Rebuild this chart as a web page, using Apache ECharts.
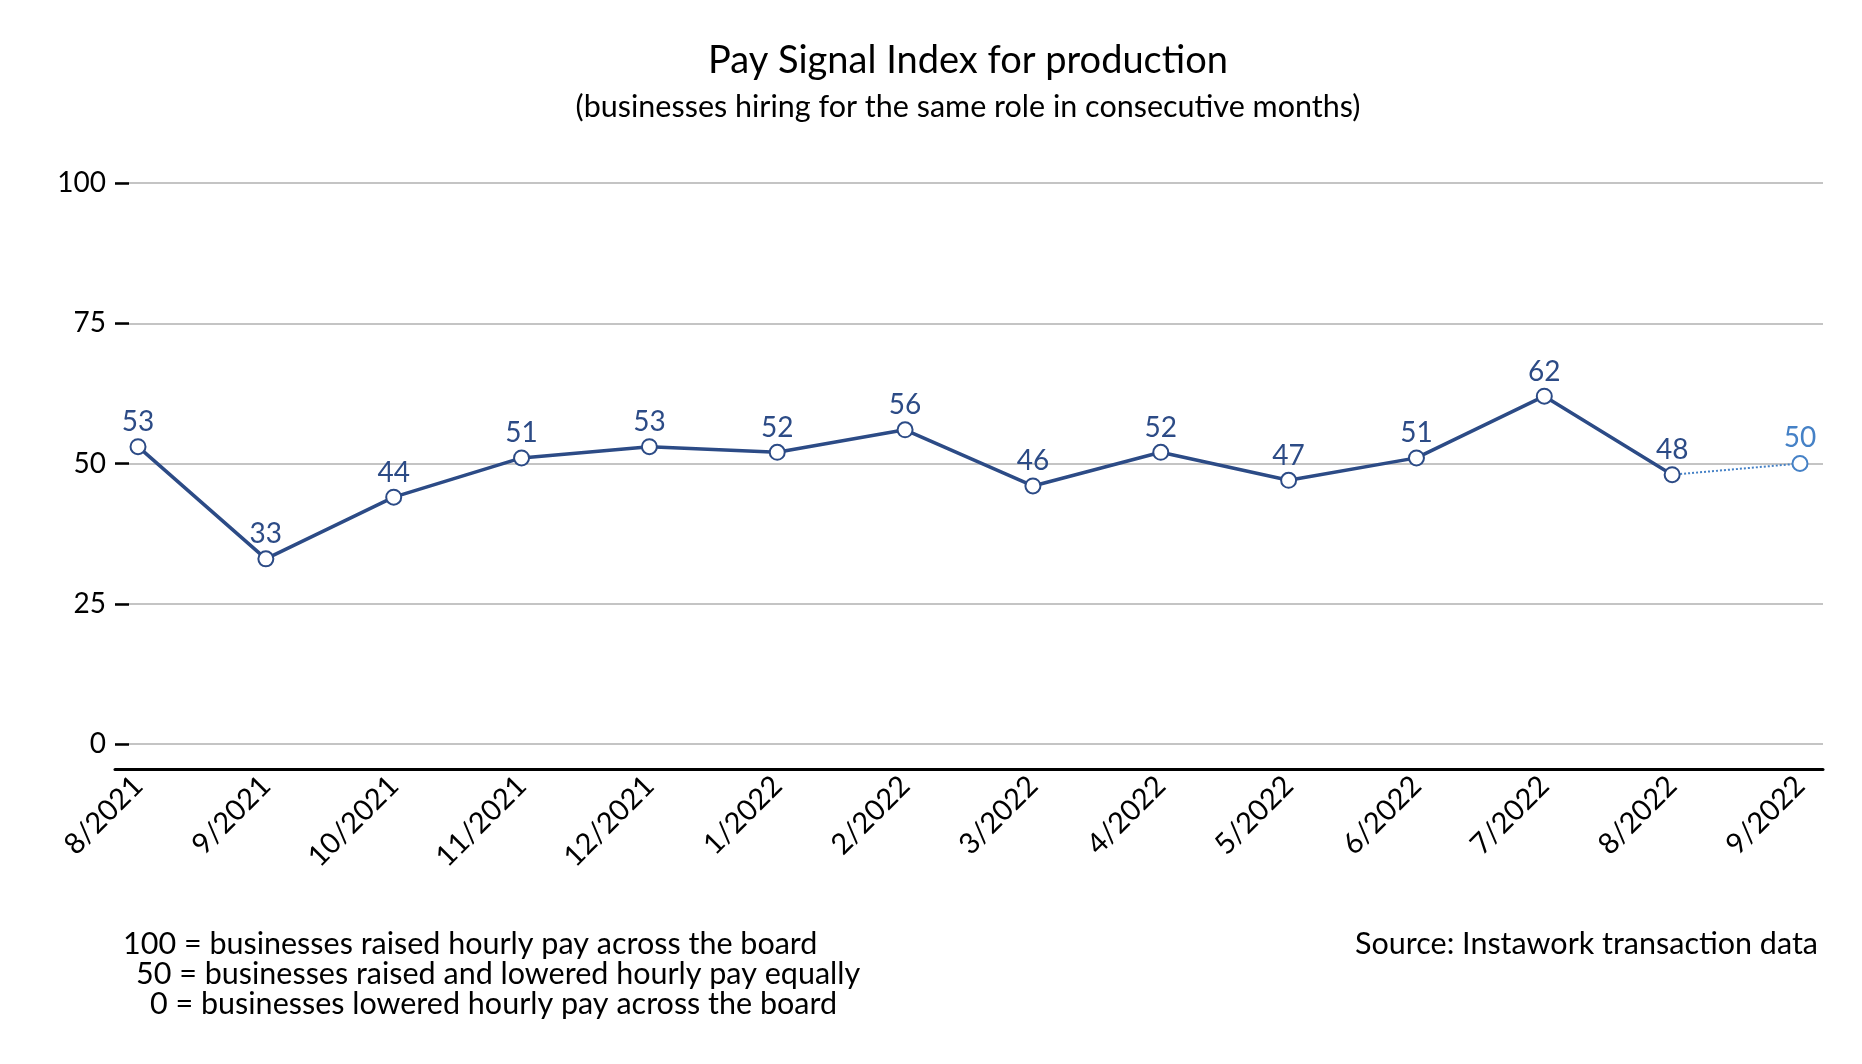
<!DOCTYPE html>
<html>
<head>
<meta charset="utf-8">
<script src="https://cdn.jsdelivr.net/npm/echarts@6/dist/echarts.min.js"></script>
<style>
html,body{margin:0;padding:0;background:#fff;}
#chart{width:1862px;height:1064px;}
</style>
</head>
<body>
<div id="chart"></div>
<script>
const categories = ['8/2021','9/2021','10/2021','11/2021','12/2021','1/2022','2/2022','3/2022','4/2022','5/2022','6/2022','7/2022','8/2022','9/2022'];
const values = [53,33,44,51,53,52,56,46,52,47,51,62,48,50];
const yTicks = [0,25,50,75,100];
const titleText = 'Pay Signal Index for production';
const subtitleText = '(businesses hiring for the same role in consecutive months)';
const noteLines = ['100 = businesses raised hourly pay across the board', '50 = businesses raised and lowered hourly pay equally', '0 = businesses lowered hourly pay across the board'];
const sourceText = 'Source: Instawork transaction data';

const FONT = 'Lato';
const DARK = '#2c4b86';
const LIGHT = '#4581c6';

const lastIdx = values.length - 1;
const mainData = values.slice(0, lastIdx).map((v, i) => [i, v]);
const tailData = [
  {value: [lastIdx - 1, values[lastIdx - 1]], symbol: 'none', label: {show: false}},
  {value: [lastIdx, values[lastIdx]]}
];

const chart = echarts.init(document.getElementById('chart'));
chart.setOption({
  backgroundColor: '#fff',
  animation: false,
  title: {
    text: titleText,
    subtext: subtitleText,
    left: 963,
    textAlign: 'center',
    top: 37,
    itemGap: 12,
    textStyle: {fontFamily: FONT, fontSize: 38, fontWeight: 'normal', color: '#000'},
    subtextStyle: {fontFamily: FONT, fontSize: 30.5, color: '#000'}
  },
  grid: {left: 115, right: 39, top: 183, bottom: 320, containLabel: false},
  xAxis: {
    type: 'value',
    min: -0.18,
    max: lastIdx + 0.18,
    offset: 25,
    splitLine: {show: false},
    axisLine: {show: true, onZero: false, lineStyle: {color: '#000', width: 3}},
    axisTick: {show: false},
    axisLabel: {
      customValues: categories.map((c, i) => i),
      formatter: v => categories[Math.round(v)],
      rotate: 45,
      margin: 12,
      fontFamily: FONT,
      fontSize: 29,
      color: '#000'
    }
  },
  yAxis: {
    type: 'value',
    min: 0,
    max: 100,
    interval: 25,
    axisLine: {show: false, onZero: false},
    axisTick: {show: true, inside: true, length: 14, lineStyle: {color: '#000', width: 2.5}},
    splitLine: {show: true, lineStyle: {color: '#c4c4c4', width: 2}},
    axisLabel: {
      margin: 9,
      fontFamily: FONT,
      fontSize: 28,
      color: '#000',
      formatter: v => (yTicks.indexOf(v) >= 0 ? String(v) : '')
    }
  },
  series: [
    {
      type: 'line',
      data: tailData,
      z: 2,
      symbol: 'emptyCircle',
      symbolSize: 15,
      lineStyle: {color: LIGHT, width: 2, type: 'dotted'},
      itemStyle: {color: LIGHT, borderColor: LIGHT, borderWidth: 3.5},
      label: {show: true, position: 'top', distance: 3, formatter: p => p.value[1], fontFamily: FONT, fontSize: 28, color: LIGHT}
    },
    {
      type: 'line',
      data: mainData,
      z: 3,
      symbol: 'emptyCircle',
      symbolSize: 15,
      lineStyle: {color: DARK, width: 3.5},
      itemStyle: {color: DARK, borderColor: DARK, borderWidth: 3.5},
      label: {show: true, position: 'top', distance: 2, formatter: p => p.value[1], fontFamily: FONT, fontSize: 28, color: DARK}
    }
  ],
  graphic: [
    {type: 'text', left: 123, top: 929, style: {text: noteLines[0], fontFamily: FONT, fontSize: 30.5, fill: '#000'}},
    {type: 'text', left: 136, top: 959, style: {text: noteLines[1], fontFamily: FONT, fontSize: 30.5, fill: '#000'}},
    {type: 'text', left: 150, top: 989, style: {text: noteLines[2], fontFamily: FONT, fontSize: 30.5, fill: '#000'}},
    {type: 'text', right: 44, top: 929, style: {text: sourceText, fontFamily: FONT, fontSize: 30.5, fill: '#000'}}
  ]
});
</script>
</body>
</html>
